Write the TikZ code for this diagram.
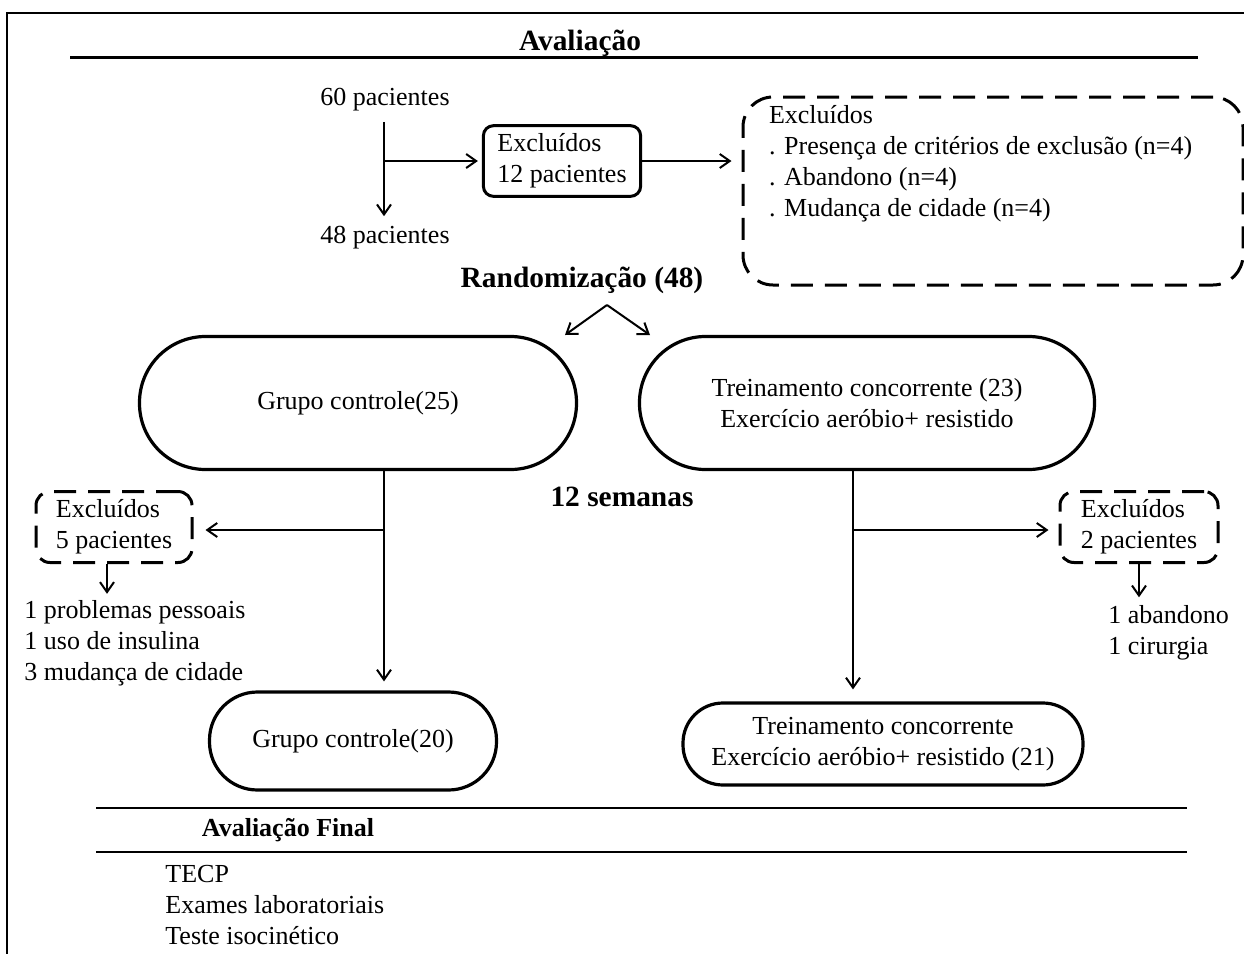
\documentclass[tikz,border=0pt]{standalone}
\usepackage{fontspec}
\setmainfont{Liberation Serif}
\usetikzlibrary{arrows.meta, calc}

\begin{document}
\begin{tikzpicture}[x=0.5pt, y=-0.5pt,
        tx/.style={font=\fontsize{13}{15.5}\selectfont, align=left, inner sep=0pt},
        hd/.style={tx, font=\fontsize{14.7}{17}\selectfont\bfseries},
        sbox/.style={tx, draw, line width=1.5pt, rounded corners=5pt, inner xsep=7pt, inner ysep=4pt},
        dbox/.style={sbox, dash pattern=on 11pt off 6pt, rounded corners=7pt},
        stad/.style={tx, draw, line width=1.6pt, align=center},
        rule/.style={line width=0.8pt},
        >={Straight Barb[length=5pt,width=7pt]}]
            \useasboundingbox (0,0) rectangle (1244,954);
            \draw[line width=1pt] (7,954) -- (7,13) -- (1244,13);

            \draw (580,43) node[hd](aval){Avaliação};
            \draw[rule, line width=1.5pt] (70,57) -- (1198,57);
            \draw (385,100) node[tx](p60){60 pacientes};
            \draw (385,238) node[tx](p48){48 pacientes};
            \draw (562,161) node[sbox](exc12){Excluídos\\12 pacientes};
            \draw (993,191) node[dbox, rounded corners=15pt, inner xsep=13pt, inner ysep=4pt](excA){\parbox[c][86pt][t]{224pt}{Excluídos\\. Presença de critérios de exclusão (n=4)\\. Abandono (n=4)\\. Mudança de cidade (n=4)}};
            \draw (582,280) node[hd](rand){Randomização (48)};
            \draw (358,403) node[stad, minimum width=218.5pt, minimum height=66.5pt, rounded corners=33pt](gc25){Grupo controle(25)};
            \draw (867,403) node[stad, minimum width=227.5pt, minimum height=66.5pt, rounded corners=33pt](tc23){Treinamento concorrente (23)\\Exercício aeróbio+ resistido};
            \draw (622,497) node[hd](sem){12 semanas};
            \draw (114,527) node[dbox, minimum width=78pt, minimum height=35.5pt](exc5){Excluídos\\5 pacientes};
            \draw (1139,527) node[dbox, minimum width=79pt, minimum height=35.5pt](exc2){Excluídos\\2 pacientes};
            \draw (24,643) node[tx, anchor=west](lst5){1 problemas pessoais\\1 uso de insulina\\3 mudança de cidade};
            \draw (1108,633) node[tx, anchor=west](lst2){1 abandono\\1 cirurgia};
            \draw (353,741) node[stad, minimum width=143.5pt, minimum height=49pt, rounded corners=24pt](gc20){Grupo controle(20)};
            \draw (883,744) node[stad, minimum width=200pt, minimum height=41pt, rounded corners=20pt](tc21){Treinamento concorrente\\Exercício aeróbio+ resistido (21)};
            \draw[rule] (96,808) -- (1187,808);
            \draw (288,830) node[tx, font=\fontsize{13}{15.5}\selectfont\bfseries](final){Avaliação Final};
            \draw[rule] (96,852) -- (1187,852);
            \draw (165,905) node[tx, anchor=west](exams){TECP\\Exames laboratoriais\\Teste isocinético};

            \coordinate (j1) at (384,161);
            \coordinate (jl) at (384,530);
            \coordinate (jr) at (853,530);
            \coordinate (apex) at (607,305);
            \coordinate (rl) at (565,335);
            \coordinate (rr) at (650,335);

            \begin{scope}[->, line width=1pt]
                \path (p60.south -| j1) edge[shorten <=5pt, shorten >=5pt] (p48.north -| j1);
                \path (j1) edge[shorten >=2pt] (j1 -| exc12.west);
                \path (exc12.east) edge[shorten >=5pt] (exc12.east -| excA.west);
                \path (apex) edge (rl);
                \path (apex) edge (rr);
                \path (gc25.south -| jl) edge[shorten >=4.5pt] (gc20.north -| jl);
                \path (jl) edge[shorten >=6pt] (jl -| exc5.east);
                \path ([xshift=-3.5pt]exc5.south) edge[shorten >=3pt] ([xshift=-3.5pt]exc5.south |- lst5.north);
                \path (tc23.south -| jr) edge[shorten >=6pt] (tc21.north -| jr);
                \path (jr) edge[shorten >=5pt] (jr -| exc2.west);
                \path (exc2.south) edge[shorten >=4pt] (exc2.south |- lst2.north);
            \end{scope}
        \end{tikzpicture}
\end{document}
